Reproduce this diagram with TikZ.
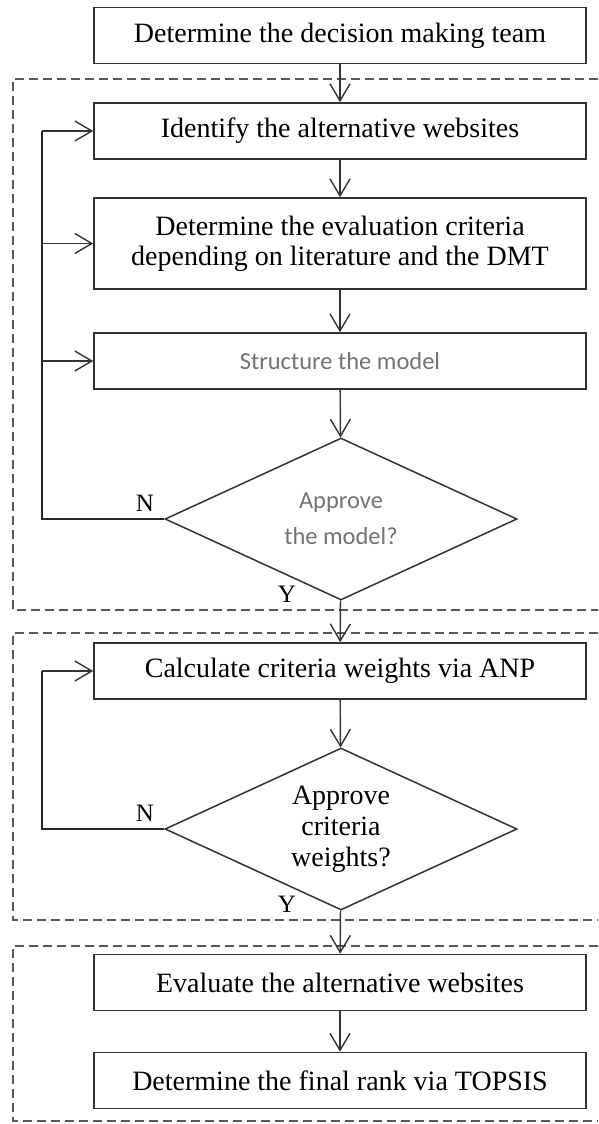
\documentclass[tikz,border=0pt]{standalone}
\usepackage{fontspec}
\setmainfont{Liberation Serif}
\newfontfamily\calib{Carlito}
\usetikzlibrary{shapes.geometric,arrows.meta}

\begin{document}
\begin{tikzpicture}[x=1pt, y=-1pt,
    process/.style ={rectangle, draw=black!80, line width=1.6pt, minimum width=492pt,
      minimum height=56pt, inner sep=0pt, align=center, font=\fontsize{28}{30}\selectfont},
    decision/.style ={diamond, aspect=2.17, draw=black!80, line width=1.5pt, minimum width=352pt,
      minimum height=162pt, inner sep=0pt, align=center, font=\fontsize{28}{31}\selectfont},
    greytext/.style ={font=\calib\fontsize{24.5}{36}\selectfont, text=black!55},
    answer/.style ={font=\fontsize{25}{28}\selectfont},
    link/.style ={-{Straight Barb[length=17pt,width=20pt]}, line width=1.4pt, draw=black!80},
    loopback/.style ={line width=2pt, draw=black!85},
    groupframe/.style ={dash pattern=on 9pt off 5pt, line width=1.2pt, draw=black!65}]
   \useasboundingbox (0,0) rectangle (598,1124);

   % dashed groups
   \draw[groupframe] (598,79) -- (13,79) -- (13,610) -- (598,610);
   \draw[groupframe] (598,633) -- (13,633) -- (13,920) -- (598,920);
   \draw[groupframe] (598,946) -- (13,946) -- (13,1121) -- (598,1121);

   \node[process] (A)  at (340,35.5)  {Determine the decision making team};
   \node[process] (B)  at (340,131)   {Identify the alternative websites};
   \node[process, minimum height=91pt] (C)  at (340,243.5)
      {Determine the evaluation criteria\\depending on literature and the DMT};
   \node[process, greytext] (D)  at (340,361)  {Structure the model};
   \node[decision, greytext] (E)  at (341,519)  {Approve\\the model?};
   \node[process] (F)  at (340,671)   {Calculate criteria weights via ANP};
   \node[decision] (G)  at (341,829)  {Approve\\criteria\\weights?};
   \node[process] (H)  at (340,982.5) {Evaluate the alternative websites};
   \node[process] (I)  at (340,1080.5) {Determine the final rank via TOPSIS};

   \node[answer] (N1) at (145,503) {N};
   \node[answer] (Y1) at (287,594) {Y};
   \node[answer] (N2) at (145,813) {N};
   \node[answer] (Y2) at (287,904) {Y};

   \coordinate (L1) at (42,519);
   \coordinate (L2) at (42,829);

   \draw[link] (A) to (B);
   \draw[link] (B) to (C);
   \draw[link] (C) to (D);
   \draw[link] (D) to (E);
   \draw[link] (E) to (F);
   \draw[link] (F) to (G);
   \draw[link] (G) to (H);
   \draw[link] (H) to (I);

   % loops back for N
   \draw[loopback] (E.west) -- (L1) -- (L1 |- B.west);
   \draw[link] (L1 |- B.west) -- (B.west);
   \draw[link] (L1 |- C.west) -- (C.west);
   \draw[link] (L1 |- D.west) -- (D.west);
   \draw[loopback] (G.west) -- (L2) -- (L2 |- F.west);
   \draw[link] (L2 |- F.west) -- (F.west);

 \end{tikzpicture}
\end{document}
